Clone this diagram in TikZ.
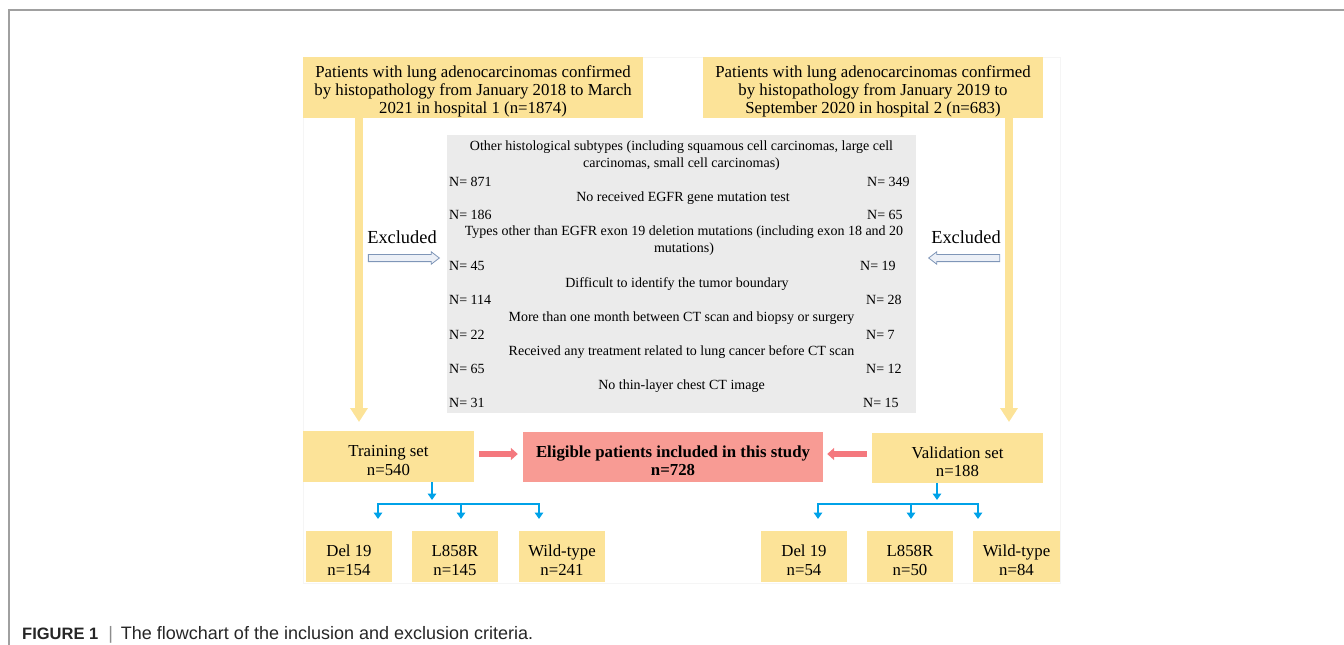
\documentclass[tikz,border=0pt]{standalone}
\usepackage{fontspec}
\setmainfont{Liberation Serif}
\setsansfont{Liberation Sans}
\usetikzlibrary{arrows.meta,shapes.arrows}
\definecolor{boxyel}{RGB}{252,227,152}
\definecolor{critgray}{RGB}{235,235,235}
\definecolor{eligred}{RGB}{248,155,148}
\definecolor{arrred}{RGB}{244,120,126}
\definecolor{splitblue}{RGB}{0,162,232}
\definecolor{hollowline}{RGB}{127,150,184}
\definecolor{hollowfill}{RGB}{236,240,247}
\definecolor{framegray}{RGB}{160,160,160}

\begin{document}
\begin{tikzpicture}[x=1pt,y=-1pt,
  ybox/.style={fill=boxyel,inner sep=0pt,align=center,text depth=0pt,text height=37.6pt,
    font=\fontsize{16.8}{18.5}\selectfont},
  topbox/.style={ybox,minimum width=340pt,minimum height=61pt,text height=51pt,
    font=\fontsize{16.8}{18}\selectfont},
  crit/.style={inner sep=0pt,align=center,font=\fontsize{14}{17}\selectfont},
  num/.style={inner sep=0pt,anchor=west,font=\fontsize{14}{17}\selectfont},
  excl/.style={inner sep=0pt,font=\fontsize{18.4}{20}\selectfont},
  yarrow/.style={line width=8pt,draw=boxyel,-{Triangle[width=17pt,length=14pt]}},
  rarrow/.style={line width=5.5pt,draw=arrred,-{Triangle[width=12pt,length=7pt]}},
  barrow/.style={line width=2.5pt,draw=splitblue,-{Triangle[width=8.5pt,length=6.5pt]}},
  hollow/.style={single arrow,draw=hollowline,fill=hollowfill,line width=0.8pt,minimum height=71pt,
    text height=3.2pt,text depth=3.2pt,single arrow head extend=2.6pt,single arrow tip angle=75,inner sep=0pt}]
\useasboundingbox (0,0) rectangle (1344,645);
% frame and figure area
\draw[framegray,line width=1.5pt] (9,650) -- (9,10) -- (1350,10);
\draw[black!4] (303,57) rectangle (1060,583);
% sources
\node[topbox] (topl)at(473,87.5){Patients with lung adenocarcinomas confirmed\\by histopathology from January 2018 to March\\2021 in hospital 1 (n=1874)};
\node[topbox] (topr)at(873,87.5){Patients with lung adenocarcinomas confirmed\\by histopathology from January 2019 to\\September 2020 in hospital 2 (n=683)};
% exclusion criteria
\node[fill=critgray,minimum width=469pt,minimum height=278pt,inner sep=0pt] (crits)at(681.5,274){};
\node[crit] (c1)at(681.5,156){Other histological subtypes (including squamous cell carcinomas, large cell\\carcinomas, small cell carcinomas)};
\node[num] (n1l)at(449,181.5){N= 871};
\node[num] (n1r)at(867,181.5){N= 349};
\node[crit] (c2)at(683,198){No received EGFR gene mutation test};
\node[num] (n2l)at(449,214.5){N= 186};
\node[num] (n2r)at(867,214.5){N= 65};
\node[crit] (c3)at(684,241){Types other than EGFR exon 19 deletion mutations (including exon 18 and 20\\mutations)};
\node[num] (n3l)at(449,265.5){N= 45};
\node[num] (n3r)at(860,265.5){N= 19};
\node[crit] (c4)at(677,284){Difficult to identify the tumor boundary};
\node[num] (n4l)at(449,299.5){N= 114};
\node[num] (n4r)at(866,299.5){N= 28};
\node[crit] (c5)at(681.5,318){More than one month between CT scan and biopsy or surgery};
\node[num] (n5l)at(449,334.5){N= 22};
\node[num] (n5r)at(866,334.5){N= 7};
\node[crit] (c6)at(681.5,352){Received any treatment related to lung cancer before CT scan};
\node[num] (n6l)at(449,368.5){N= 65};
\node[num] (n6r)at(866,368.5){N= 12};
\node[crit] (c7)at(681.5,386){No thin-layer chest CT image};
\node[num] (n7l)at(449,402.5){N= 31};
\node[num] (n7r)at(863,402.5){N= 15};
% excluded arrows
\node[excl] (exlt)at(402,237){Excluded};
\node[excl] (exrt)at(966,237){Excluded};
\node[hollow] (exl)at(401.5,258){};
\node[hollow,shape border rotate=180] (exr)at(966.5,258){};
% sets
\node[ybox,minimum width=171pt,minimum height=51pt] (train)at(388.5,456.5){Training set\\n=540};
\node[ybox,fill=eligred,minimum width=300pt,minimum height=50pt,font=\fontsize{16.8}{18.5}\selectfont\bfseries] (elig)at(673,457){Eligible patients included in this study\\n=728};
\node[ybox,minimum width=171pt,minimum height=50pt] (valid)at(957.5,458){Validation set\\n=188};
\coordinate (ldown)at(359,422);
\coordinate (rdown)at(1009,422);
\coordinate (redy)at(0,454);
\draw[yarrow] (topl.south -| ldown) -- (ldown);
\draw[yarrow] (topr.south -| rdown) -- (rdown);
\draw[rarrow,shorten <=5pt,shorten >=5pt] (train.east |- redy) -- (elig.west |- redy);
\draw[rarrow,shorten <=5pt,shorten >=4pt] (valid.west |- redy) -- (elig.east |- redy);
% subgroups
\node[ybox,minimum width=86pt,minimum height=51pt] (tdel)at(349,556.5){Del 19\\n=154};
\node[ybox,minimum width=86pt,minimum height=51pt] (tl858)at(455,556.5){L858R\\n=145};
\node[ybox,minimum width=86pt,minimum height=51pt] (twild)at(562,556.5){Wild-type\\n=241};
\node[ybox,minimum width=86pt,minimum height=51pt] (vdel)at(804,556.5){Del 19\\n=54};
\node[ybox,minimum width=86pt,minimum height=51pt] (vl858)at(910,556.5){L858R\\n=50};
\node[ybox,minimum width=87pt,minimum height=51pt] (vwild)at(1016.5,556.5){Wild-type\\n=84};
\coordinate (tsplit)at(432,504);
\coordinate (vsplit)at(937,504);
\draw[barrow] (train.south -| tsplit) -- ([yshift=4pt]tsplit);
\draw[barrow] (valid.south -| vsplit) -- ([yshift=4pt]vsplit);
\draw[splitblue,line width=2.5pt] (378,504) -- (539,504);
\draw[splitblue,line width=2.5pt] (818,504) -- (978,504);
\draw[barrow] (378,503) -- (378,519);
\draw[barrow] (461,503) -- (461,519);
\draw[barrow] (539,503) -- (539,519);
\draw[barrow] (818,503) -- (818,519);
\draw[barrow] (911,503) -- (911,519);
\draw[barrow] (978,503) -- (978,519);
% caption
\node[anchor=west,inner sep=0pt,text=black!85,font=\sffamily\fontsize{18}{20}\selectfont] (capt)at(22,634.5){{\fontsize{16.5}{20}\selectfont\bfseries FIGURE 1}\hspace{10pt}{\color{black!45}|}\hspace{8pt}The flowchart of the inclusion and exclusion criteria.};
\end{tikzpicture}
\end{document}
